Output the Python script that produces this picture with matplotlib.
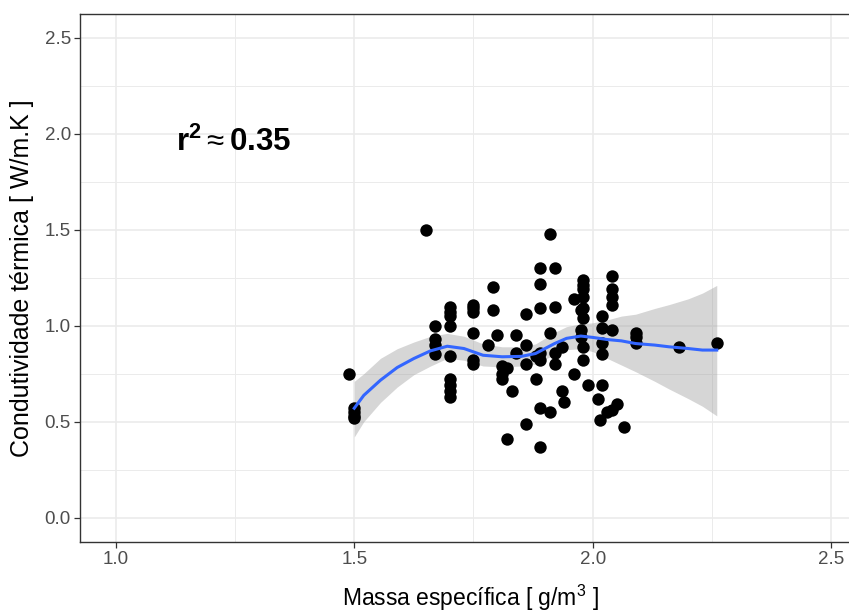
import numpy as np
import matplotlib.pyplot as plt
from matplotlib.ticker import MultipleLocator

plt.rcParams['font.family'] = ['Liberation Sans', 'DejaVu Sans']
plt.rcParams['mathtext.fontset'] = 'custom'
plt.rcParams['mathtext.rm'] = 'Liberation Sans'
plt.rcParams['mathtext.it'] = 'Liberation Sans'
plt.rcParams['mathtext.bf'] = 'Liberation Sans:bold'

# massa especifica (g/m3) and condutividade termica (W/m.K)
dens = [1.49, 1.50, 1.50, 1.50, 1.50,
        1.65, 1.67, 1.67, 1.67, 1.67,
        1.70, 1.70, 1.70, 1.70, 1.70, 1.70, 1.70, 1.70, 1.70,
        1.75, 1.75, 1.75, 1.75, 1.75, 1.75,
        1.78, 1.79, 1.79, 1.80,
        1.81, 1.81, 1.81, 1.82, 1.82, 1.83,
        1.84, 1.84, 1.86, 1.86, 1.86, 1.86,
        1.88, 1.88, 1.89, 1.89,
        1.89, 1.89, 1.89, 1.89, 1.89,
        1.91, 1.91, 1.91,
        1.92, 1.92, 1.92, 1.92,
        1.935, 1.935, 1.94,
        1.96, 1.96,
        1.975, 1.975, 1.975,
        1.98, 1.98, 1.98, 1.98, 1.98, 1.98, 1.98, 1.98,
        1.99, 2.01, 2.015,
        2.02, 2.02, 2.02, 2.02, 2.02, 2.03,
        2.04, 2.04, 2.04, 2.04, 2.04, 2.04,
        2.05, 2.065,
        2.09, 2.09, 2.09,
        2.18, 2.26]
cond = [0.75, 0.57, 0.55, 0.53, 0.52,
        1.50, 1.00, 0.93, 0.90, 0.85,
        1.10, 1.07, 1.05, 1.00, 0.84, 0.72, 0.69, 0.66, 0.63,
        1.11, 1.09, 1.07, 0.96, 0.82, 0.80,
        0.90, 1.20, 1.08, 0.95,
        0.79, 0.75, 0.72, 0.41, 0.78, 0.66,
        0.95, 0.86, 1.06, 0.90, 0.80, 0.49,
        0.72, 0.84, 0.57, 0.37,
        1.30, 1.22, 1.09, 0.86, 0.82,
        1.48, 0.96, 0.55,
        1.30, 1.10, 0.86, 0.80,
        0.89, 0.66, 0.60,
        1.14, 0.75,
        1.08, 0.98, 0.94,
        1.24, 1.21, 1.19, 1.15, 1.09, 1.04, 0.89, 0.82,
        0.69, 0.62, 0.51,
        1.05, 0.99, 0.91, 0.85, 0.69, 0.55,
        1.26, 1.19, 1.15, 1.11, 0.98, 0.56,
        0.59, 0.47,
        0.96, 0.94, 0.91,
        0.89, 0.91]

# loess curve and its 95% band
smooth_x = [1.50, 1.52, 1.555, 1.59, 1.625, 1.66, 1.695, 1.73, 1.77, 1.81,
            1.85, 1.88, 1.92, 1.945, 1.975, 2.00, 2.03, 2.06, 2.09, 2.13,
            2.16, 2.20, 2.23, 2.26]
smooth_y = [0.57, 0.637, 0.716, 0.782, 0.829, 0.869, 0.893, 0.881, 0.846, 0.838,
            0.840, 0.855, 0.907, 0.934, 0.946, 0.939, 0.928, 0.921, 0.907, 0.899,
            0.890, 0.881, 0.873, 0.873]
smooth_lo = [0.42, 0.50, 0.60, 0.68, 0.745, 0.79, 0.83, 0.82, 0.79, 0.785,
             0.79, 0.80, 0.85, 0.875, 0.88, 0.865, 0.83, 0.795, 0.76, 0.71,
             0.67, 0.62, 0.58, 0.53]
smooth_hi = [0.71, 0.75, 0.83, 0.88, 0.915, 0.945, 0.96, 0.945, 0.905, 0.89,
             0.89, 0.905, 0.965, 0.995, 1.01, 1.015, 1.03, 1.05, 1.06, 1.09,
             1.11, 1.14, 1.17, 1.21]

fig = plt.figure(figsize=(8.49, 6.12), dpi=100)
ax = fig.add_axes((80 / 849, 70.5 / 612, 787 / 849, 527.5 / 612))

ax.fill_between(smooth_x, smooth_lo, smooth_hi, color='#999999', alpha=0.4, lw=0, zorder=2)
ax.scatter(dens, cond, s=80, color='black', linewidths=0, zorder=3)
ax.plot(smooth_x, smooth_y, color='#3366FF', lw=2.2, zorder=4)

ax.text(1.246, 1.954, r'$\mathbf{r^2}\approx\mathbf{0.35}$', fontsize=22.5,
        ha='center', va='center', color='black')

ax.set_xlim(0.925, 2.575)
ax.set_ylim(-0.125, 2.625)
ax.xaxis.set_major_locator(MultipleLocator(0.5))
ax.yaxis.set_major_locator(MultipleLocator(0.5))
ax.xaxis.set_minor_locator(MultipleLocator(0.25))
ax.yaxis.set_minor_locator(MultipleLocator(0.25))
ax.xaxis.set_major_formatter(plt.FuncFormatter(lambda v, p: '%.1f' % v))
ax.yaxis.set_major_formatter(plt.FuncFormatter(lambda v, p: '%.1f' % v))
ax.grid(which='major', color='#EBEBEB', lw=1.2, zorder=0)
ax.grid(which='minor', color='#EBEBEB', lw=0.7, zorder=0)
ax.set_axisbelow(True)

ax.tick_params(which='major', length=4.5, width=0.9, color='#333333',
               labelcolor='#4D4D4D', labelsize=13.5, pad=2)
ax.tick_params(which='minor', length=0)
for s in ax.spines.values():
    s.set_color('#333333')
    s.set_linewidth(1.0)

ax.set_xlabel(r'Massa específica [ $\mathrm{g/m^3}$ ]', fontsize=16.5, color='black')
ax.set_ylabel('Condutividade térmica [ W/m.K ]', fontsize=18, color='black')
ax.xaxis.set_label_coords((470 - 80) / 787, -0.078)
ax.yaxis.set_label_coords(-0.058, 0.5)

fig.savefig('out.png', dpi=100)
